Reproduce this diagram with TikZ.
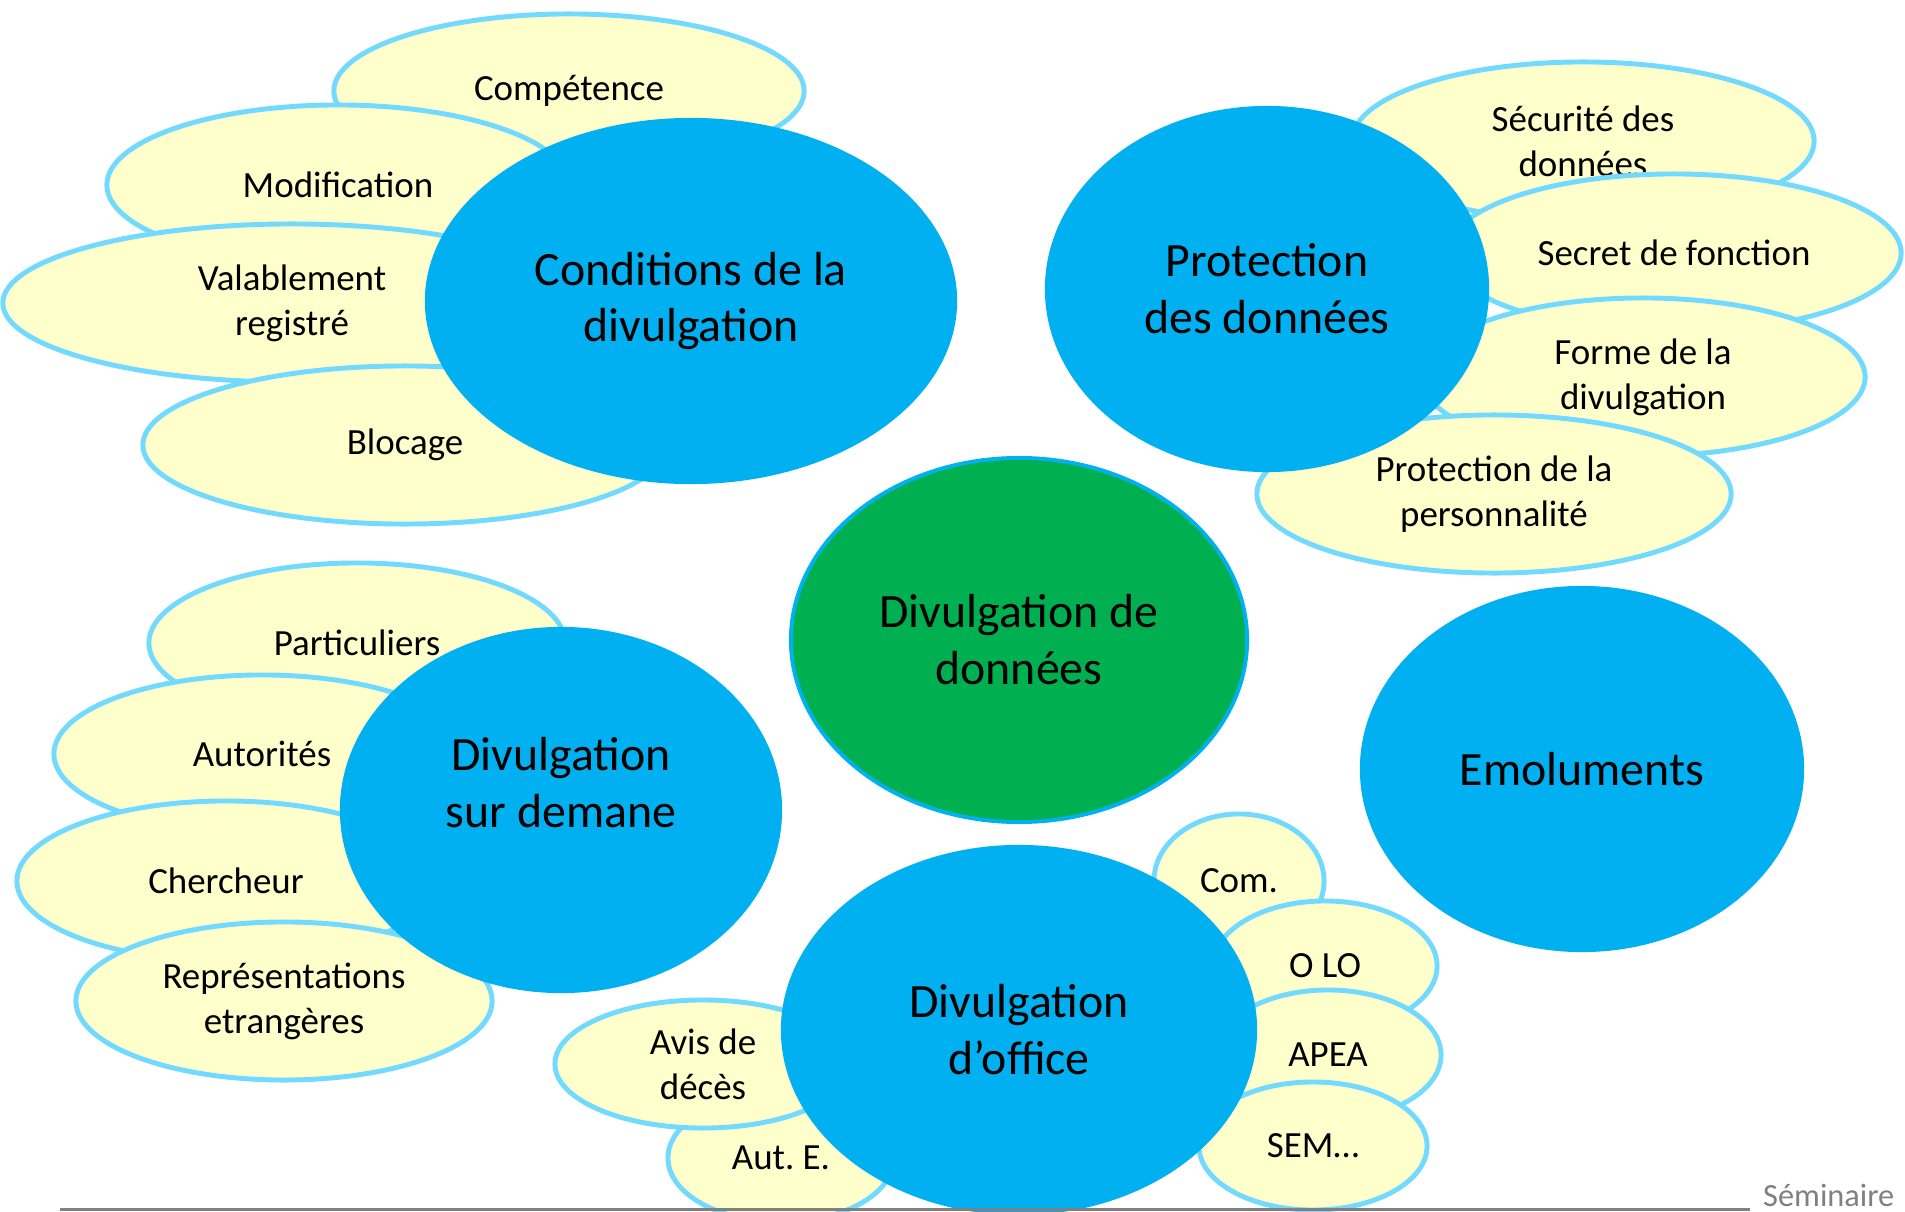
\documentclass[tikz,border=0pt]{standalone}
\usepackage{fontspec}
\setmainfont{Carlito}
\frenchspacing
\usetikzlibrary{shapes.geometric}
\definecolor{bulle}{HTML}{00B0F0}
\definecolor{petale}{HTML}{FFFFCC}
\definecolor{bord}{HTML}{72D9FF}
\definecolor{vert}{HTML}{00B050}
\definecolor{gris}{HTML}{808080}
\tikzset{
  petal/.style={ellipse, fill=petale, draw=bord, line width=1.4pt, inner sep=0pt,
    align=center, font=\fontsize{10.5}{12.8}\selectfont},
  blob/.style={ellipse, fill=bulle, inner sep=0pt, align=center,
    font=\fontsize{13.6}{16.2}\selectfont},
  bigtext/.style={inner sep=0pt, align=center, font=\fontsize{13.6}{16.2}\selectfont},
}
\begin{document}
\begin{tikzpicture}[x=0.01cm, y=-0.01cm]
  \useasboundingbox (0,0) rectangle (1905,1212);

  \node[petal, minimum width=4.70cm, minimum height=1.54cm] (comp) at (569,91) {Compétence};
  \node[petal, minimum width=4.62cm, minimum height=1.60cm] (modif) at (338,185) {Modification};
  \node[petal, minimum width=5.78cm, minimum height=1.58cm] (valab) at (292,303) {Valablement\\registré};
  \node[petal, minimum width=5.24cm, minimum height=1.58cm] (bloc) at (405,445) {Blocage};
  \node[blob, minimum width=5.32cm, minimum height=3.66cm] (cond) at (691,301) {Conditions de la\\divulgation};

  \node[petal, minimum width=4.62cm, minimum height=1.58cm] (secu) at (1583,141) {Sécurité des\\données};
  \node[petal, minimum width=4.54cm, minimum height=1.58cm] (secret) at (1674,253) {Secret de fonction};
  \node[petal, minimum width=4.44cm, minimum height=1.58cm] (forme) at (1643,377) {Forme de la\\divulgation};
  \node[petal, minimum width=4.74cm, minimum height=1.58cm] (perso) at (1494,494) {Protection de la\\personnalité};
  \node[blob, minimum width=4.44cm, minimum height=3.66cm] (prot) at (1267,289) {Protection\\des données};

  \node[blob, minimum width=4.44cm, minimum height=3.66cm] (emol) at (1582,769) {Emoluments};

  \node[petal, minimum width=4.16cm, minimum height=1.60cm] (partic) at (357,643) {Particuliers};
  \node[petal, minimum width=4.16cm, minimum height=1.58cm] (autor) at (262,754) {Autorités};
  \node[petal, minimum width=4.18cm, minimum height=1.60cm] (cherch) at (226,881) {Chercheur};
  \node[petal, minimum width=4.16cm, minimum height=1.58cm] (repres) at (284,1001) {Représentations\\etrangères};
  \node[blob, minimum width=4.42cm, minimum height=3.66cm] (demande) at (561,810) {};
  \node[bigtext] (demandeT) at (561,783) {Divulgation\\sur demane};

  \node[blob, fill=vert, draw=bulle, line width=1.1pt, minimum width=4.56cm, minimum height=3.64cm] (centre) at (1019,640) {Divulgation de\\données};

  \node[petal, minimum width=2.26cm, minimum height=1.28cm] (aut) at (781,1158) {Aut. E.};
  \node[petal, minimum width=2.96cm, minimum height=1.28cm] (avis) at (703,1064) {Avis de\\décès};
  \node[petal, minimum width=1.70cm, minimum height=1.34cm] (com) at (1239,881) {Com.};
  \node[petal, minimum width=2.24cm, minimum height=1.30cm] (olo) at (1325,966) {O LO};
  \node[petal, minimum width=2.26cm, minimum height=1.30cm] (apea) at (1328,1055) {APEA};
  \node[petal, minimum width=2.28cm, minimum height=1.28cm] (sem) at (1313,1146) {SEM…};
  \node[blob, minimum width=4.76cm, minimum height=3.70cm] (office) at (1019,1030) {Divulgation\\d’office};

  \coordinate (ligneA) at (60,1209);
  \coordinate (ligneB) at (1750,1209);
  \draw[gris, line width=0.85pt] (ligneA) -- (ligneB);
  \node[anchor=base east, text=gris, inner sep=0pt, font=\fontsize{9.2}{11}\selectfont] (semin) at (1895,1206) {Séminaire};
\end{tikzpicture}
\end{document}
